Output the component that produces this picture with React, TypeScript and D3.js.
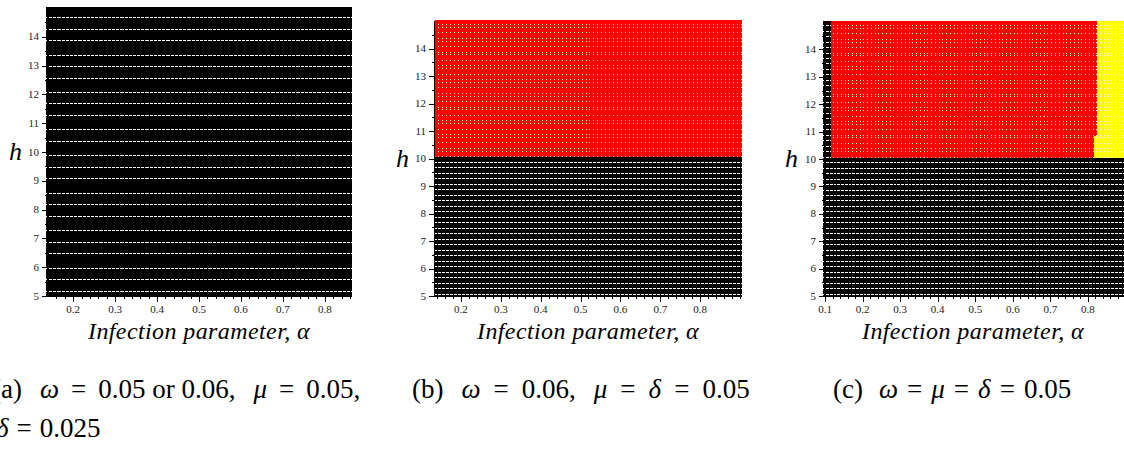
import React from "react";
import * as d3 from "d3";

// ---- data ----
const hTicks = [5, 6, 7, 8, 9, 10, 11, 12, 13, 14];
const hMinorTicks = [5.5, 6.5, 7.5, 8.5, 9.5, 10.5, 11.5, 12.5, 13.5, 14.5];
const alphaTicksAB = [0.2, 0.3, 0.4, 0.5, 0.6, 0.7, 0.8];
const alphaTicksC = [0.1, 0.2, 0.3, 0.4, 0.5, 0.6, 0.7, 0.8];

// parameter grid of the simulation (alpha step 0.01, h step 0.1)
const hValues = d3.range(50, 151).map((i) => i / 10);
const alphaValuesA = d3.range(14, 87).map((i) => i / 100);
const alphaValuesB = d3.range(14, 91).map((i) => i / 100);
const alphaValuesC = d3.range(10, 91).map((i) => i / 100);

// region boundaries
const bRedMinH = 10.05; // panel b: red above h = 10
const cRedMinH = 10.05; // panel c: red/yellow above h = 10
const cBlackMaxAlpha = 0.115; // panel c: first columns stay black
const cYellowBreakH = [10.85, 15.01]; // yellow boundary steps (upper h of each step)
const cYellowMinAlpha = [0.82, 0.83];

const RED = "#ff0000";
const YELLOW = "#ffff00";
const BLACK = "#000000";
const SERIF = "'Liberation Serif', 'Times New Roman', Times, serif";

type Cls = "black" | "red" | "yellow";

function classA(_a: number, _h: number): Cls {
  return "black";
}
function classB(_a: number, h: number): Cls {
  return h >= bRedMinH ? "red" : "black";
}
function classC(a: number, h: number): Cls {
  if (h < cRedMinH) return "black";
  if (a < cBlackMaxAlpha) return "black";
  const idx = cYellowBreakH.findIndex((b) => h <= b);
  const minA = cYellowMinAlpha[idx < 0 ? cYellowMinAlpha.length - 1 : idx];
  if (a >= minA - 1e-9) return "yellow";
  return "red";
}

// pixel-rendering emulation of overlapping point markers:
// gapRate = share of rows that leave a thin white line below them
function markerPath(
  cells: { a: number; h: number }[],
  xs: d3.ScaleLinear<number, number>,
  ys: d3.ScaleLinear<number, number>,
  gapRate: number,
  wideVertical: boolean
): string {
  const sx = Math.abs(xs(0.01) - xs(0));
  const sy = Math.abs(ys(0.1) - ys(0));
  let d = "";
  for (const c of cells) {
    const cx = xs(c.a);
    const cy = ys(c.h);
    const row = Math.round(c.h * 10);
    const gap = Math.floor((row + 1) * gapRate) > Math.floor(row * gapRate);
    const x0 = Math.round(cx - sx / 2);
    const x1 = Math.round(cx + sx / 2);
    const y0 = Math.round(cy - sy / 2);
    let y1 = Math.round(cy + sy / 2) - (gap ? 1 : 0);
    if (y1 <= y0) y1 = y0 + 1;
    d += `M${x0},${y0}h${x1 - x0}v${y1 - y0}h${x0 - x1}Z`;
    let vx0: number, vx1: number;
    if (wideVertical) {
      vx0 = x0;
      vx1 = Math.max(x0 + 1, x1 - 1);
    } else {
      vx0 = Math.round(cx);
      vx1 = vx0 + 1;
    }
    const vy0 = Math.round(cy - sy / 2);
    const vy1 = Math.round(cy + sy / 2);
    d += `M${vx0},${vy0}h${vx1 - vx0}v${vy1 - vy0}h${vx0 - vx1}Z`;
  }
  return d;
}

type PanelProps = {
  alphaValues: number[];
  domain: [number, number];
  xRange: [number, number];
  yTop: number;
  yBottom: number;
  classify: (a: number, h: number) => Cls;
  xTicks: number[];
  blackGap: number;
  titleX: number;
  hX: number;
};

function Panel(p: PanelProps) {
  const xs = d3.scaleLinear().domain(p.domain).range(p.xRange);
  const ys = d3.scaleLinear().domain([5, 15]).range([p.yBottom, p.yTop]);
  const groups: Record<Cls, { a: number; h: number }[]> = {
    black: [],
    red: [],
    yellow: [],
  };
  for (const a of p.alphaValues) {
    for (const h of hValues) {
      groups[p.classify(a, h)].push({ a, h });
    }
  }
  const x0 = p.xRange[0];
  const xMinor = d3
    .range(Math.ceil(p.domain[0] * 50), Math.floor(p.domain[1] * 50) + 1)
    .map((i) => i / 50);
  const midY = (p.yTop + p.yBottom) / 2;
  return (
    <g>
      <g shapeRendering="crispEdges">
        {groups.black.length > 0 && (
          <path d={markerPath(groups.black, xs, ys, p.blackGap, false)} fill={BLACK} />
        )}
        {groups.red.length > 0 && (
          <path d={markerPath(groups.red, xs, ys, 0.6, true)} fill={RED} />
        )}
        {groups.yellow.length > 0 && (
          <path d={markerPath(groups.yellow, xs, ys, 0.6, true)} fill={YELLOW} />
        )}
      </g>
      <g shapeRendering="crispEdges" stroke="#000" strokeWidth={1}>
        <line x1={x0 - 0.5} x2={x0 - 0.5} y1={ys(15)} y2={ys(5) + 1} />
        {hTicks.map((t) => (
          <line key={"yt" + t} x1={x0 - 6} x2={x0} y1={Math.round(ys(t)) + 0.5} y2={Math.round(ys(t)) + 0.5} />
        ))}
        {hMinorTicks.map((t) => (
          <line key={"ym" + t} x1={x0 - 3} x2={x0} y1={Math.round(ys(t)) + 0.5} y2={Math.round(ys(t)) + 0.5} />
        ))}
        <line x1={x0} x2={p.xRange[1]} y1={Math.round(ys(5)) + 0.5} y2={Math.round(ys(5)) + 0.5} />
        {xMinor.map((t) => (
          <line
            key={"xm" + t}
            x1={Math.round(xs(t)) + 0.5}
            x2={Math.round(xs(t)) + 0.5}
            y1={Math.round(ys(5))}
            y2={Math.round(ys(5)) + (p.xTicks.some((v) => Math.abs(v - t) < 1e-6) ? 6 : 3)}
          />
        ))}
      </g>
      <g fontFamily={SERIF} fontSize={11} fill="#222">
        {hTicks.map((t) => (
          <text key={"yl" + t} x={x0 - 9} y={ys(t) + 3.5} textAnchor="end">
            {t}
          </text>
        ))}
        {p.xTicks.map((t) => (
          <text key={"xl" + t} x={xs(t)} y={313} textAnchor="middle">
            {t.toFixed(1)}
          </text>
        ))}
      </g>
      <text x={p.hX} y={midY + 8} fontFamily={SERIF} fontStyle="italic" fontSize={26} fill="#000">
        h
      </text>
      <text
        x={p.titleX}
        y={339}
        textAnchor="middle"
        fontFamily={SERIF}
        fontStyle="italic"
        fontSize={24}
        letterSpacing={0.4}
        fill="#000"
      >
        Infection parameter, α
      </text>
    </g>
  );
}

export default function App() {
  return (
    <svg
      width={1124}
      height={449}
      style={{ position: "absolute", left: 0, top: 0, background: "#fff" }}
    >
      <rect x={0} y={0} width={1124} height={449} fill="#fff" />
      <Panel
        alphaValues={alphaValuesA}
        domain={[0.14, 0.86]}
        xRange={[48, 350]}
        yTop={8}
        yBottom={296}
        classify={classA}
        xTicks={alphaTicksAB}
        blackGap={0.23}
        titleX={199}
        hX={9}
      />
      <Panel
        alphaValues={alphaValuesB}
        domain={[0.135, 0.9]}
        xRange={[435, 740]}
        yTop={21}
        yBottom={296}
        classify={classB}
        xTicks={alphaTicksAB}
        blackGap={0.5}
        titleX={588}
        hX={396}
      />
      <Panel
        alphaValues={alphaValuesC}
        domain={[0.1, 0.9]}
        xRange={[825, 1125.5]}
        yTop={22}
        yBottom={296}
        classify={classC}
        xTicks={alphaTicksC}
        blackGap={0.5}
        titleX={973}
        hX={785}
      />
      <g fontFamily={SERIF} fontSize={27} fill="#000">
        <text x={-8} y={398}>
          (a)<tspan dx={18} fontStyle="italic">ω</tspan>
          <tspan dx={12}>=</tspan>
          <tspan dx={12}>0.05 or 0.06,</tspan>
          <tspan dx={18} fontStyle="italic">μ</tspan>
          <tspan dx={12}>=</tspan>
          <tspan dx={12}>0.05,</tspan>
        </text>
        <text x={-4} y={437}>
          <tspan fontStyle="italic">δ</tspan>
          <tspan dx={8}>=</tspan>
          <tspan dx={8}>0.025</tspan>
        </text>
        <text x={412} y={398}>
          (b)<tspan dx={18} fontStyle="italic">ω</tspan>
          <tspan dx={13}>=</tspan>
          <tspan dx={13}>0.06,</tspan>
          <tspan dx={18} fontStyle="italic">μ</tspan>
          <tspan dx={13}>=</tspan>
          <tspan dx={13} fontStyle="italic">δ</tspan>
          <tspan dx={13}>=</tspan>
          <tspan dx={13}>0.05</tspan>
        </text>
        <text x={833} y={398}>
          (c)<tspan dx={16} fontStyle="italic">ω</tspan>
          <tspan dx={9}>=</tspan>
          <tspan dx={9} fontStyle="italic">μ</tspan>
          <tspan dx={9}>=</tspan>
          <tspan dx={9} fontStyle="italic">δ</tspan>
          <tspan dx={9}>=</tspan>
          <tspan dx={9}>0.05</tspan>
        </text>
      </g>
    </svg>
  );
}
